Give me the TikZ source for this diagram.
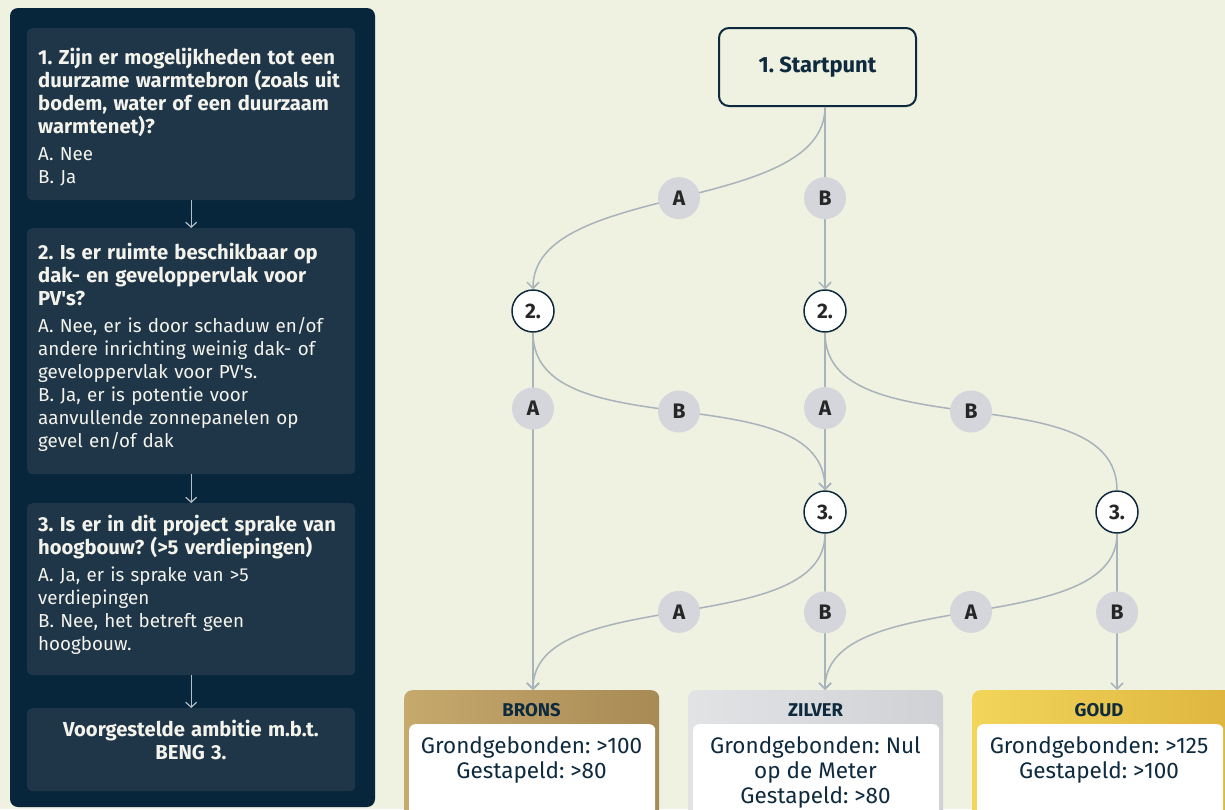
\documentclass[tikz,border=0pt]{standalone}
\usepackage{fontspec}
\setmainfont{Fira Sans}
\usetikzlibrary{arrows.meta}
\frenchspacing

\definecolor{pagebg}{HTML}{EFF1E1}
\definecolor{panel}{HTML}{07263B}
\definecolor{card}{HTML}{1F3649}
\definecolor{ink}{HTML}{0E2A3E}
\definecolor{paper}{HTML}{F3F3EC}
\definecolor{wire}{HTML}{A8B3BB}
\definecolor{chip}{HTML}{D5D6DB}
\definecolor{bronsA}{HTML}{C6A96C}
\definecolor{bronsB}{HTML}{A88A55}
\definecolor{zilverA}{HTML}{E2E3E5}
\definecolor{zilverB}{HTML}{CFD1D5}
\definecolor{goudA}{HTML}{F2D55A}
\definecolor{goudB}{HTML}{DDB43E}

% heading lines of the question cards
\newcommand{\qhead}{\fontsize{20.2}{23}\selectfont\bfseries}
\newcommand{\qbody}{\fontsize{18.8}{23}\selectfont\mdseries}

\tikzset{
  card/.style={fill=card, rounded corners=5pt, minimum width=328pt, inner sep=0pt, anchor=north west},
  cardtext/.style={anchor=north west, inner sep=0pt, text=paper, align=left, text width=330pt,
    font=\qbody},
  panelarrow/.style={draw=wire!85!white, line width=1.2pt, -{Straight Barb[length=5pt,width=11pt]}},
  conn/.style={draw=wire, line width=1.5pt, -{Straight Barb[length=6pt,width=12pt]}},
  plainconn/.style={draw=wire, line width=1.5pt},
  qnode/.style={circle, draw=ink, line width=1.5pt, fill=white, minimum size=42pt, inner sep=0pt,
    font=\fontsize{21}{22}\selectfont\bfseries, text=black!85},
  letter/.style={circle, fill=chip, minimum size=42pt, inner sep=0pt,
    font=\fontsize{21}{22}\selectfont\bfseries, text=black!85},
  tier/.style={rounded corners=8pt, minimum width=255pt, minimum height=130pt, inner sep=0pt, anchor=north west},
  tierbody/.style={fill=white, rounded corners=6pt, minimum width=246pt, minimum height=100pt, inner sep=0pt, anchor=north west},
  tiername/.style={font=\fontsize{18.5}{20}\selectfont\bfseries, text=ink},
  tiertext/.style={font=\fontsize{22.5}{25}\selectfont, text=ink, align=center, anchor=north, inner sep=0pt},
}

\begin{document}
\begin{tikzpicture}[x=1pt,y=-1pt]
\useasboundingbox (0,0) rectangle (1225,809);
\fill[pagebg] (0,0) rectangle (1225,809);

% ---- question panel ----
\fill[panel, rounded corners=8pt] (10,8) rectangle (375,807);

\node[card, minimum height=172pt] (q1) at (27,28) {};
\node[card, minimum height=246pt] (q2) at (27,228) {};
\node[card, minimum height=172pt] (q3) at (27,503) {};
\node[card, minimum height=83pt]  (q4) at (27,708) {};

\node[cardtext] (q1t) at (38,48) {\qhead 1. Zijn er mogelijkheden tot een\\
duurzame warmtebron (zoals uit\\ bodem, water of een duurzaam\\ warmtenet)?\\[4pt]
\qbody A. Nee\\ B. Ja};
\node[cardtext] (q2t) at (38,243) {\qhead 2. Is er ruimte beschikbaar op\\
dak- en geveloppervlak voor\\ PV\textquotesingle s?\\[4pt]
\qbody A. Nee, er is door schaduw en/of\\ andere inrichting weinig dak- of\\
geveloppervlak voor PV\textquotesingle s.\\ B. Ja, er is potentie voor\\ aanvullende zonnepanelen op\\ gevel en/of dak};
\node[cardtext] (q3t) at (38,515) {\qhead 3. Is er in dit project sprake van\\
hoogbouw? (>5 verdiepingen)\\[4pt]
\qbody A. Ja, er is sprake van >5\\ verdiepingen\\ B. Nee, het betreft geen\\ hoogbouw.};
\node[cardtext, anchor=north, align=center, text width=320pt] (q4t) at (191,720)
  {\qhead Voorgestelde ambitie m.b.t.\\ BENG 3.};

\draw[panelarrow] (q1.south) -- (q2.north);
\draw[panelarrow] (q2.south) -- (q3.north);
\draw[panelarrow] (q3.south) -- (q4.north);

% ---- decision tree ----
\node[draw=ink, line width=2pt, rounded corners=10pt, minimum width=197pt, minimum height=78pt,
  font=\fontsize{22}{24}\selectfont\bfseries, text=ink] (start) at (817.5,67) {1. Startpunt};

\node[qnode] (n2a) at (533,311) {2.};
\node[qnode] (n2b) at (825,311) {2.};
\node[qnode] (n3a) at (825,512) {3.};
\node[qnode] (n3b) at (1117,512) {3.};

% ambition levels
\begin{scope}
\clip (0,0) rectangle (1225,809);
\node[tier, left color=bronsA, right color=bronsB] (brons) at (404,690) {};
\node[tier, left color=zilverA, right color=zilverB] (zilver) at (688,690) {};
\node[tier, left color=goudA, right color=goudB, minimum width=270pt] (goud) at (972,690) {};
\node[tierbody] (bronsbody) at (409,724) {};
\node[tierbody] (zilverbody) at (693,724) {};
\node[tierbody] (goudbody) at (977,724) {};
\end{scope}

\node[tiername] (bronsname) at (531.5,710) {BRONS};
\node[tiername] (zilvername) at (815.5,710) {ZILVER};
\node[tiername] (goudname) at (1099,710) {GOUD};

\node[tiertext] (bronstext) at (531.5,736) {Grondgebonden: >100\\ Gestapeld: >80};
\node[tiertext] (zilvertext) at (815.5,736) {Grondgebonden: Nul\\ op de Meter\\ Gestapeld: >80};
\node[tiertext] (goudtext) at (1099,736) {Grondgebonden: >125\\ Gestapeld: >100};

% answers
\draw[conn] (n2b |- start.south) .. controls +(0,108) and +(0,-108) .. (n2a.north)
  node[letter, pos=0.5] (la1) {A};
\draw[conn] (n2b |- start.south) -- (n2b.north) node[letter, pos=0.5] (lb1) {B};

\draw[conn] (n2a.south) -- (n2a |- brons.north) node[letter, pos=0.212] (la2) {A};
\draw[conn] (n2a.south) .. controls +(0,118) and +(0,-118) .. (n3a.north)
  node[letter, pos=0.5] (lb2) {B};
\draw[conn] (n2b.south) -- (n3a.north) node[letter, pos=0.478] (la3) {A};
\draw[plainconn] (n2b.south) .. controls +(0,118) and +(0,-118) .. (n3b.north)
  node[letter, pos=0.5] (lb3) {B};

\draw[conn] (n3a.south) .. controls +(0,106) and +(0,-106) .. (n2a |- brons.north)
  node[letter, pos=0.5] (la4) {A};
\draw[conn] (n3a.south) -- (n3a |- zilver.north) node[letter, pos=0.503] (lb4) {B};
\draw[conn] (n3b.south) .. controls +(0,106) and +(0,-106) .. (n3a |- zilver.north)
  node[letter, pos=0.5] (la5) {A};
\draw[conn] (n3b.south) -- (n3b |- goud.north) node[letter, pos=0.503] (lb5) {B};
\end{tikzpicture}
\end{document}
